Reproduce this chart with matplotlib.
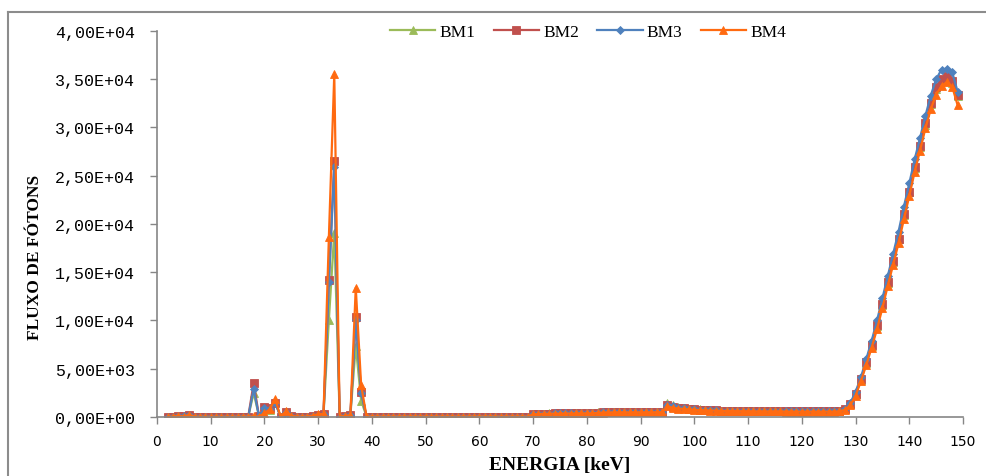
import matplotlib

matplotlib.use("Agg")

import matplotlib.pyplot as plt
from matplotlib.lines import Line2D
from matplotlib.ticker import FuncFormatter, MultipleLocator

# energy bins, 1 keV step
energia = list(range(2, 150))

bm1 = [
    30, 40, 120, 50, 200, 40, 30, 30, 30, 30,
    30, 30, 30, 30, 40, 50, 2500, 80, 800, 700,
    1600, 50, 450, 120, 50, 50, 50, 130, 220, 280,
    10100, 19100, 50, 100, 180, 7400, 1700, 50, 50, 50,
    50, 50, 50, 50, 50, 50, 50, 50, 50, 50,
    50, 50, 50, 50, 50, 50, 50, 50, 50, 50,
    50, 50, 50, 50, 50, 50, 50, 50, 320, 340,
    360, 370, 380, 380, 390, 390, 400, 400, 410, 410,
    470, 490, 500, 510, 510, 510, 520, 520, 520, 520,
    520, 520, 530, 1500, 1200, 1050, 950, 880, 830, 780,
    740, 720, 700, 670, 660, 650, 640, 630, 620, 610,
    610, 600, 600, 600, 590, 590, 590, 580, 580, 580,
    580, 580, 580, 590, 610, 630, 800, 1300, 2400, 3800,
    5600, 7400, 9400, 11600, 13900, 16100, 18400, 20900, 23300, 25800,
    28000, 30300, 32400, 34000, 34900, 35200, 34600, 33300,
]

bm2 = [
    30, 40, 150, 60, 250, 40, 30, 30, 30, 30,
    30, 30, 30, 30, 40, 50, 3500, 60, 1000, 900,
    1500, 50, 500, 150, 50, 50, 50, 150, 250, 300,
    14200, 26500, 50, 100, 200, 10400, 2600, 50, 50, 50,
    50, 50, 50, 50, 50, 50, 50, 50, 50, 50,
    50, 50, 50, 50, 50, 50, 50, 50, 50, 50,
    50, 50, 50, 50, 50, 50, 50, 50, 300, 330,
    350, 360, 370, 370, 380, 380, 390, 390, 400, 400,
    450, 480, 490, 500, 500, 500, 510, 510, 510, 510,
    510, 510, 520, 1200, 1050, 950, 900, 850, 800, 750,
    720, 700, 680, 650, 650, 640, 620, 620, 610, 600,
    600, 600, 590, 590, 590, 580, 580, 580, 580, 570,
    570, 570, 570, 570, 580, 600, 800, 1300, 2400, 3900,
    5700, 7500, 9500, 11700, 14000, 16200, 18400, 21000, 23300, 25900,
    28100, 30500, 32500, 34200, 35000, 35300, 34800, 33400,
]

bm3 = [
    30, 40, 140, 60, 230, 40, 30, 30, 30, 30,
    30, 30, 30, 30, 40, 50, 2900, 60, 900, 850,
    1500, 50, 480, 140, 50, 50, 50, 140, 240, 300,
    14000, 25900, 50, 100, 190, 10000, 2500, 50, 50, 50,
    50, 50, 50, 50, 50, 50, 50, 50, 50, 50,
    50, 50, 50, 50, 50, 50, 50, 50, 50, 50,
    50, 50, 50, 50, 50, 50, 50, 50, 300, 330,
    350, 360, 370, 370, 380, 380, 390, 390, 400, 400,
    450, 480, 490, 500, 500, 500, 510, 510, 510, 510,
    510, 510, 520, 1250, 1100, 980, 910, 860, 810, 760,
    730, 700, 680, 660, 650, 640, 630, 620, 610, 600,
    600, 600, 590, 590, 590, 580, 580, 580, 580, 570,
    570, 570, 570, 570, 590, 620, 850, 1400, 2600, 4100,
    6000, 7900, 10000, 12300, 14600, 16900, 19200, 21800, 24200, 26700,
    28900, 31200, 33300, 35000, 36000, 36100, 35700, 33700,
]

bm4 = [
    30, 40, 130, 50, 220, 40, 30, 30, 30, 30,
    30, 30, 30, 30, 40, 50, 60, 50, 400, 800,
    1900, 50, 600, 130, 50, 50, 50, 150, 280, 320,
    18700, 35500, 50, 100, 200, 13400, 3300, 50, 50, 50,
    50, 50, 50, 50, 50, 50, 50, 50, 50, 50,
    50, 50, 50, 50, 50, 50, 50, 50, 50, 50,
    50, 50, 50, 50, 50, 50, 50, 50, 280, 310,
    330, 340, 350, 350, 360, 360, 370, 370, 380, 380,
    430, 460, 470, 480, 480, 480, 490, 490, 490, 490,
    490, 490, 500, 1100, 950, 880, 830, 790, 750, 710,
    690, 670, 650, 630, 620, 610, 600, 590, 590, 580,
    580, 580, 570, 570, 570, 560, 560, 560, 560, 550,
    550, 550, 550, 550, 560, 580, 750, 1200, 2200, 3700,
    5400, 7200, 9100, 11300, 13600, 15800, 18000, 20500, 22900, 25400,
    27600, 29900, 31900, 33400, 34300, 34700, 34200, 32300,
]

series = [
    ("BM1", bm1, "#9BBB59", "^", 5.5),
    ("BM2", bm2, "#C0504D", "s", 5.5),
    ("BM3", bm3, "#4F81BD", "D", 3.8),
    ("BM4", bm4, "#FF6A10", "^", 5.5),
]
for _, values, *_rest in series:
    assert len(values) == len(energia)

AXIS_GREY = "#868686"


def sci_comma(value, _pos):
    return f"{value:.2E}".replace(".", ",")


fig = plt.figure(figsize=(9.87, 4.77), dpi=100)
ax = fig.add_axes([0.159, 0.1237, 0.8167, 0.8093])

for name, values, color, marker, size in series:
    ax.plot(
        energia,
        values,
        color=color,
        linewidth=1.6,
        marker=marker,
        markersize=size,
        markeredgewidth=0.6,
        markeredgecolor=color,
        label=name,
    )

ax.set_xlim(0, 150)
ax.set_ylim(0, 40000)
ax.xaxis.set_major_locator(MultipleLocator(10))
ax.yaxis.set_major_locator(MultipleLocator(5000))
ax.yaxis.set_major_formatter(FuncFormatter(sci_comma))

for side in ("top", "right"):
    ax.spines[side].set_visible(False)
for side in ("left", "bottom"):
    ax.spines[side].set_color(AXIS_GREY)
    ax.spines[side].set_linewidth(1.2)

ax.tick_params(axis="both", direction="out", length=5, width=1, color=AXIS_GREY)
ax.tick_params(axis="y", pad=11)
ax.tick_params(axis="x", pad=7)
for lbl in ax.get_yticklabels():
    lbl.set_fontfamily("Liberation Mono")
    lbl.set_fontsize(12)
for lbl in ax.get_xticklabels():
    lbl.set_fontfamily("DejaVu Sans")
    lbl.set_fontsize(10)

ax.set_xlabel("ENERGIA [keV]", fontfamily="Liberation Serif", fontweight="bold",
              fontsize=14, labelpad=6)
ax.set_ylabel("FLUXO DE FÓTONS", fontfamily="Liberation Serif", fontweight="bold",
              fontsize=12.5)
ax.yaxis.set_label_coords(-0.141, 0.415)

ax.legend(
    loc="center",
    bbox_to_anchor=(0.535, 0.997),
    ncol=4,
    frameon=False,
    handlelength=2.6,
    columnspacing=1.05,
    handletextpad=0.25,
    prop={"family": "Liberation Serif", "size": 12.5},
)

# outer chart frame (top and left edges)
fig.add_artist(Line2D([8 / 987, 1.0], [1 - 13 / 477, 1 - 13 / 477],
                      transform=fig.transFigure, color="#8C8C8C", linewidth=1.5))
fig.add_artist(Line2D([8 / 987, 8 / 987], [0.0, 1 - 13 / 477],
                      transform=fig.transFigure, color="#8C8C8C", linewidth=1.5))

fig.savefig("out.png", dpi=100)
plt.close(fig)
